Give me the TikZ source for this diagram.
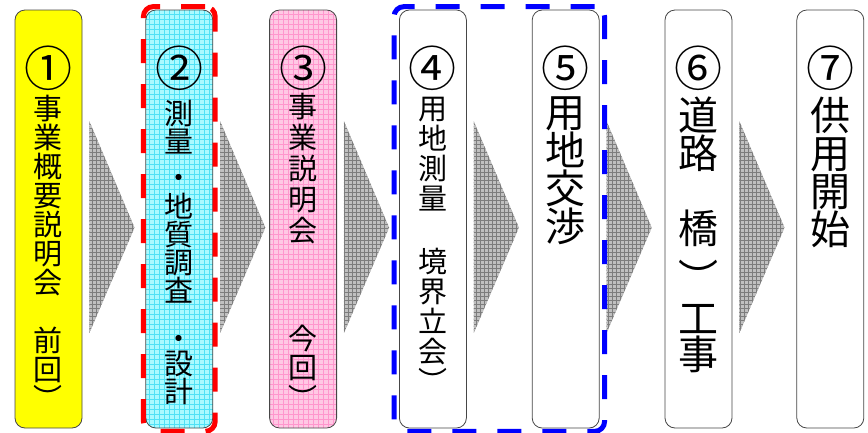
\documentclass[tikz,border=0pt]{standalone}
\usepackage{fontspec}
\newfontfamily\jpfont{Noto Sans CJK JP}
\usetikzlibrary{positioning, fit}
\definecolor{edgegray}{RGB}{70,70,70}
\definecolor{stageyellow}{RGB}{255,255,0}
\definecolor{meshcyan}{RGB}{170,250,255}
\definecolor{meshcyanline}{RGB}{80,225,245}
\definecolor{meshpink}{RGB}{255,200,228}
\definecolor{meshpinkline}{RGB}{255,150,205}
\definecolor{meshgray}{RGB}{192,192,192}
\definecolor{meshgrayline}{RGB}{125,125,125}
\newcommand{\jpsize}[2]{\jpfont\fontsize{#1}{#2}\selectfont\lineskiplimit=-100pt}
\tikzset{
  stage/.style={draw=edgegray, line width=0.8pt, rounded corners=10pt, minimum width=67pt, minimum height=418pt, inner sep=0pt}, % one step of the flow
  mesh/.style n args={3}{fill=#1, path picture={\draw[#2, solid, line width=0.5pt, step=#3] (path picture bounding box.south west) grid (path picture bounding box.north east);}},
  num/.style={font=\jpsize{48}{48}, inner sep=0pt},
  vtext/.style={font=\jpsize{29}{29}, align=center, inner sep=0pt},
  vbig/.style={font=\jpsize{40}{38}, align=center, inner sep=0pt},
  chevron/.style={mesh={meshgray}{meshgrayline}{4pt}, draw=meshgrayline, line width=0.4pt, densely dotted},
  dashbox/.style={draw=#1, line width=5pt, dash pattern=on 24pt off 21pt, rounded corners=10pt},
}
\begin{document}
\begin{tikzpicture}[x=1pt, y=-1pt]
    \useasboundingbox (0,0) rectangle (868,432);
    % steps
    \node[stage, fill=stageyellow] (s1) at (48.5,219) {};
    \node[stage, mesh={meshcyan}{meshcyanline}{5pt}, right=63pt of s1] (s2) {};
    \node[stage, mesh={meshpink}{meshpinkline}{5pt}, right=56pt of s2] (s3) {};
    \node[stage, fill=white, right=62pt of s3] (s4) {};
    \node[stage, fill=white, right=65pt of s4] (s5) {};
    \node[stage, fill=white, right=65pt of s5] (s6) {};
    \node[stage, fill=white, right=64pt of s6] (s7) {};
    % arrows between the steps
    \foreach \i in {1,...,6}
        \draw[chevron] ([shift={(7,112)}]s\i.north east) -- ([shift={(52,218)}]s\i.north east) -- ([shift={(7,323)}]s\i.north east) -- cycle;
    % numbers
    \foreach \i/\c in {1/①, 2/②, 3/③, 4/④, 5/⑤, 6/⑥, 7/⑦}
        \node[num, below=36pt of s\i.north] (n\i) {\c};
    % texts
    \node[vtext, below=85pt of s1.north] (x1) {事\\業\\概\\要\\説\\明\\会\\[29pt]前\\回\\︶};
    \node[vtext, font=\jpsize{29}{28}, below=90pt of s2.north] (x2) {測\\量};
    \node[vtext] (d2a) at ([yshift=-172pt]s2.north) {・};
    \node[vtext, font=\jpsize{29}{28}, below=183pt of s2.north] (x2b) {地\\質\\調\\査};
    \node[vtext] (d2b) at ([yshift=-333pt]s2.north) {・};
    \node[vtext, font=\jpsize{29}{28}, below=341pt of s2.north] (x2c) {設\\計};
    \node[vtext, font=\jpsize{29}{31}, below=83pt of s3.north] (x3) {事\\業\\説\\明\\会\\[77pt]今\\[-2pt]回\\︶};
    \node[vtext, font=\jpsize{29}{30}, below=87pt of s4.north] (x4) {用\\地\\測\\量\\[33pt]境\\界\\立\\会\\︶};
    \node[vbig, below=87pt of s5.north] (x5) {用\\地\\交\\渉};
    \node[vbig, below=87pt of s6.north] (x6) {道\\路\\[37pt]橋\\[12pt]︶\\[2pt]工\\[-2pt]事};
    \node[vbig, below=87pt of s7.north] (x7) {供\\用\\開\\始};
    % dashed frames
    \node[dashbox=red, fit=(s2), inner xsep=2pt, inner ysep=3pt] (f2) {};
    \node[dashbox=blue, fit=(s4) (s5), inner xsep=5pt, inner ysep=3pt] (f45) {};
\end{tikzpicture}
\end{document}
